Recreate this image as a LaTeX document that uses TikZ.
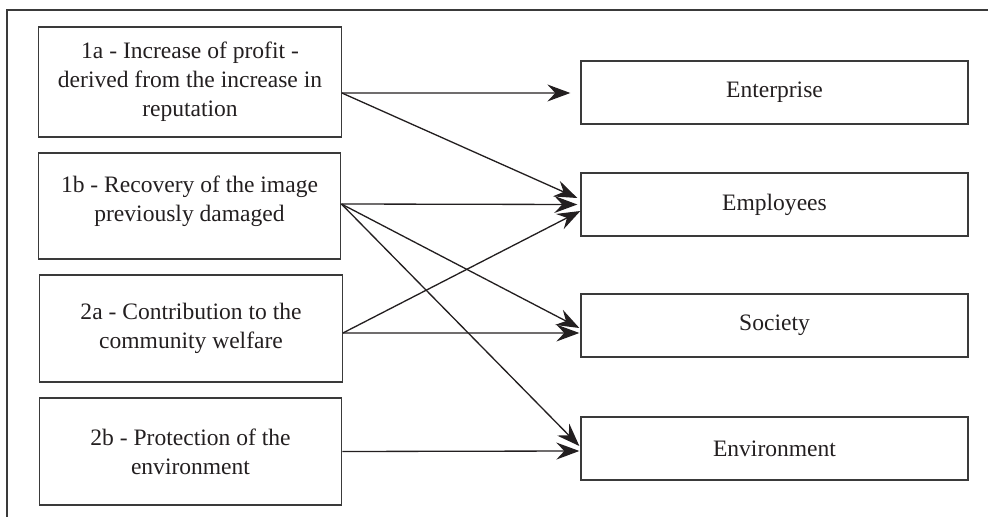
\documentclass[tikz,border=0pt]{standalone}
\usepackage{fontspec}
\setmainfont{Liberation Serif}
\usetikzlibrary{arrows.meta}
\definecolor{ink}{HTML}{231F20}
\definecolor{boxline}{HTML}{3A3A3A}
\begin{document}
\begin{tikzpicture}[x=0.02cm,y=-0.02cm,
  font=\fontsize{13.4}{16.5}\selectfont,
  srcbox/.style={draw=boxline,line width=0.8pt,text=ink,align=center,minimum width=6.05cm,inner sep=0pt},
  dstbox/.style={draw=boxline,line width=0.8pt,text=ink,align=center,minimum width=7.74cm,minimum height=1.26cm,inner sep=0pt},
  conn/.style={draw=ink,line width=0.75pt,-{Stealth[length=0.46cm,width=0.34cm,inset=0.16cm]}}]
\useasboundingbox (0,0) rectangle (988,517);
\draw[boxline,line width=0.8pt] (7,517) -- (7,10) -- (988,10);
% source boxes
\node[srcbox,minimum height=2.2cm] (s1a) at (190,82) {1a - Increase of profit -\\derived from the increase in\\reputation};
\node[srcbox,minimum height=2.12cm] (s1b) at (189.5,206) {1b - Recovery of the image\\previously damaged\\[-0.28cm]};
\node[srcbox,minimum height=2.14cm] (s2a) at (191,328.5) {2a - Contribution to the\\community welfare};
\node[srcbox,minimum height=2.14cm] (s2b) at (190.5,451.5) {2b - Protection of the\\environment};
% target boxes
\node[dstbox] (ent) at (774.5,92.5) {Enterprise};
\node[dstbox] (emp) at (774.5,204.5) {Employees};
\node[dstbox] (soc) at (774.5,325.5) {Society};
\node[dstbox] (env) at (774.5,448.5) {Environment};
% connectors
\draw[conn] ([yshift=-0.22cm]s1a.east) -- ([xshift=-0.2cm,yshift=-0.01cm]ent.west);
\draw[conn] ([yshift=-0.22cm]s1a.east) -- ([xshift=-0.06cm,yshift=0.13cm]emp.west);
\draw[conn] ([yshift=0.04cm]s1b.east) -- ([xshift=-0.06cm]emp.west);
\draw[conn] ([yshift=0.04cm]s1b.east) -- ([xshift=-0.02cm,yshift=-0.05cm]soc.west);
\draw[conn] ([yshift=0.04cm]s1b.east) -- ([xshift=-0.02cm,yshift=0.05cm]env.west);
\draw[conn] ([yshift=-0.09cm]s2a.east) -- ([yshift=-0.13cm]emp.west);
\draw[conn] ([yshift=-0.09cm]s2a.east) -- ([xshift=-0.02cm,yshift=-0.15cm]soc.west);
\draw[conn] (s2b.east) -- ([xshift=-0.02cm,yshift=-0.05cm]env.west);
\end{tikzpicture}
\end{document}
